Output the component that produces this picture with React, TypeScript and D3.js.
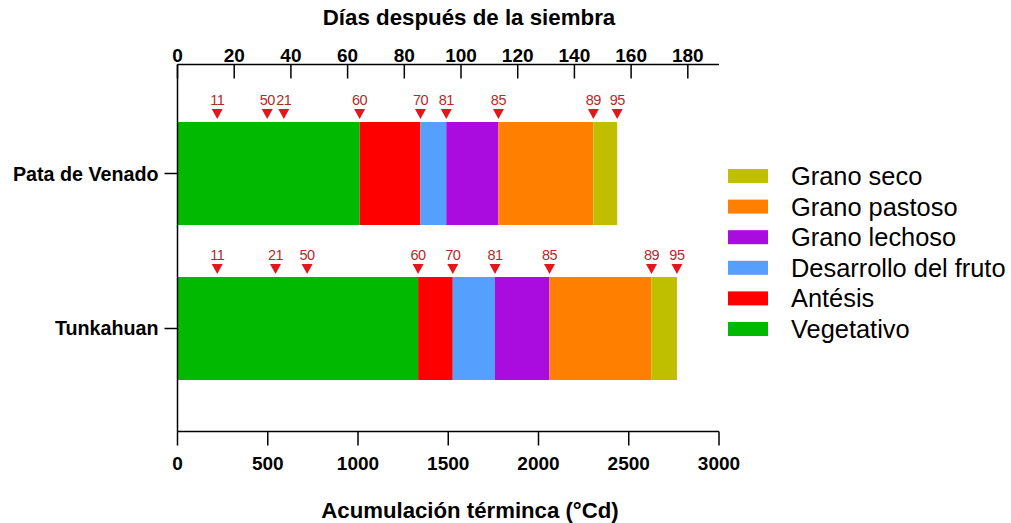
import React from "react";
import * as d3 from "d3";

const varieties = ["Pata de Venado", "Tunkahuan"];
const stageNames = ["Vegetativo", "Antésis", "Desarrollo del fruto", "Grano lechoso", "Grano pastoso", "Grano seco"];
const stageColors = ["#00b900", "#ff0000", "#559fff", "#aa0bdf", "#ff8000", "#bfbf00"];
// BBCH codes that close each stage
const stageEndCodes = ["60", "70", "81", "85", "89", "95"];

const markerCodesPata = ["11", "50", "21", "60", "70", "81", "85", "89", "95"];
const markerGddPata = [220, 497, 589, 1009, 1346, 1489, 1778, 2304, 2436];
const markerCodesTunk = ["11", "21", "50", "60", "70", "81", "85", "89", "95"];
const markerGddTunk = [220, 543, 718, 1333, 1525, 1759, 2061, 2626, 2767];

const gddTicks = [0, 500, 1000, 1500, 2000, 2500, 3000];
const dayTicks = [0, 20, 40, 60, 80, 100, 120, 140, 160, 180];

const markerCodes = [markerCodesPata, markerCodesTunk];
const markerGdd = [markerGddPata, markerGddTunk];

const FONT = "'Liberation Sans', Arial, Helvetica, sans-serif";

export default function App() {
  const left = 177.5, right = 719, top = 64.5, bottom = 431.5;
  const x = d3.scaleLinear().domain([0, 3000]).range([left, right]);
  const xDays = d3.scaleLinear().domain([0, 191]).range([left, right]);
  const y = d3.scaleBand<string>().domain(varieties).range([70, 432]).padding(0.3355);
  const bw = y.bandwidth();

  const legendItems = stageNames.map((n, i) => ({ n, c: stageColors[i] })).reverse();

  return (
    <svg width={1011} height={523} style={{ position: "absolute", left: 0, top: 0, background: "#fff" }} fontFamily={FONT}>
      {/* bars */}
      {varieties.map((v, vi) => {
        const codes = markerCodes[vi];
        const vals = markerGdd[vi];
        const ends = stageEndCodes.map((c) => vals[codes.indexOf(c)]);
        return (
          <g key={v}>
            {ends.map((e, i) => {
              const s = i === 0 ? 0 : ends[i - 1];
              return (
                <rect key={i} x={x(s)} y={y(v)} width={x(e) - x(s)} height={bw} fill={stageColors[i]} />
              );
            })}
            {vals.map((g, i) => {
              const cx = x(g);
              const yt = (y(v) as number) - 3;
              return (
                <g key={"m" + i}>
                  <path d={`M${cx - 5.5},${yt - 10} L${cx + 5.5},${yt - 10} L${cx},${yt} Z`} fill="#e3171b" />
                  <text x={cx} y={yt - 14} textAnchor="middle" fontSize={14.5} fill="#b42a2a" letterSpacing={-0.5}>
                    {codes[i]}
                  </text>
                </g>
              );
            })}
          </g>
        );
      })}

      {/* axes lines */}
      <g stroke="#000" strokeWidth={1.5} fill="none">
        <line x1={left} x2={right} y1={top} y2={top} />
        <line x1={left} x2={right} y1={bottom} y2={bottom} />
        <line x1={left} x2={left} y1={top} y2={bottom} />
        {dayTicks.map((t) => (
          <line key={"dt" + t} x1={xDays(t)} x2={xDays(t)} y1={top} y2={top + 14} />
        ))}
        {gddTicks.map((t) => (
          <line key={"gt" + t} x1={x(t)} x2={x(t)} y1={bottom} y2={bottom + 14} />
        ))}
        {varieties.map((v) => {
          const cy = (y(v) as number) + bw / 2;
          return <line key={"ct" + v} x1={left - 13} x2={left} y1={cy} y2={cy} />;
        })}
      </g>

      {/* tick labels */}
      {dayTicks.map((t) => (
        <text key={"dl" + t} x={xDays(t)} y={top - 3} textAnchor="middle" fontSize={19} fontWeight="bold">
          {t}
        </text>
      ))}
      {gddTicks.map((t) => (
        <text key={"gl" + t} x={x(t)} y={bottom + 38} textAnchor="middle" fontSize={19} fontWeight="bold">
          {t}
        </text>
      ))}
      {varieties.map((v) => {
        const cy = (y(v) as number) + bw / 2;
        return (
          <text key={"cl" + v} x={left - 19} y={cy + 7} textAnchor="end" fontSize={19.7} fontWeight="bold">
            {v}
          </text>
        );
      })}

      {/* titles */}
      <text x={469} y={25} textAnchor="middle" fontSize={22.3} fontWeight="bold">
        Días después de la siembra
      </text>
      <text x={470} y={518} textAnchor="middle" fontSize={22.2} fontWeight="bold">
        Acumulación términca (°Cd)
      </text>

      {/* legend */}
      {legendItems.map((it, i) => {
        const cy = 176 + i * 30.6;
        return (
          <g key={it.n}>
            <rect x={728} y={cy - 7} width={40} height={14} fill={it.c} />
            <text x={791} y={cy + 9} fontSize={25.4}>
              {it.n}
            </text>
          </g>
        );
      })}
    </svg>
  );
}
